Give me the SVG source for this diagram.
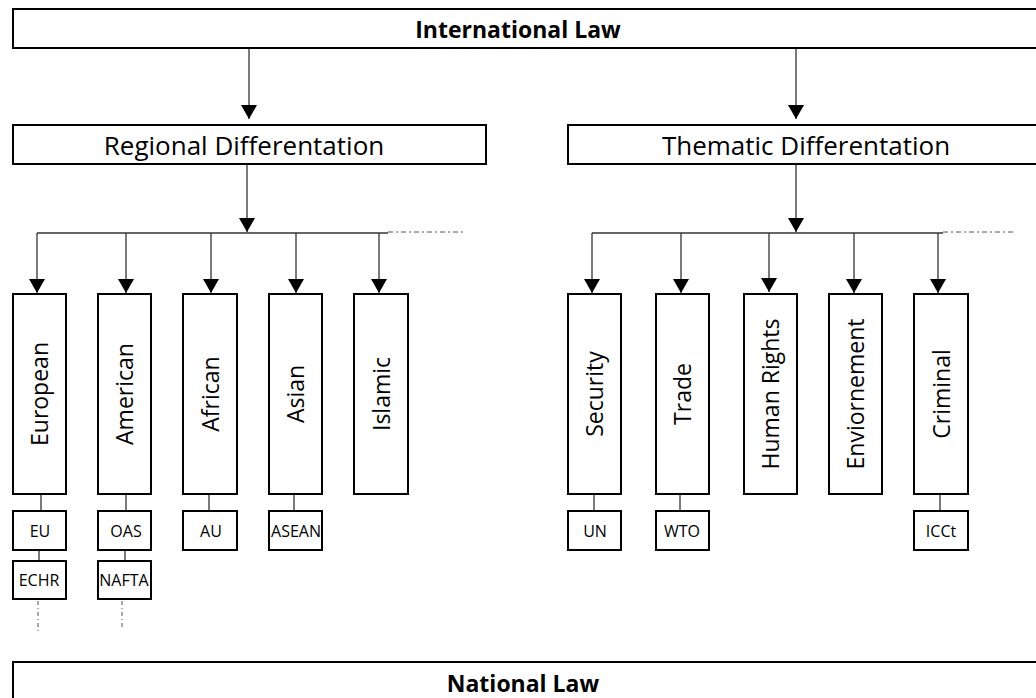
<svg xmlns="http://www.w3.org/2000/svg" width="1036" height="698" viewBox="0 0 1036 698">
<defs>
<marker id="ah" markerWidth="15" markerHeight="16" refX="14" refY="8" orient="auto" markerUnits="userSpaceOnUse">
<path d="M0,0 L14,8 L0,16 Z" fill="#000"/>
</marker>
<style>
.box{fill:#fff;stroke:#000;stroke-width:2}
.con{stroke:#333;stroke-width:1.3;fill:none}
.arr{stroke:#333;stroke-width:1.3;fill:none;marker-end:url(#ah)}
.dd{stroke:#555;stroke-width:1;stroke-dasharray:5 3 2 3;fill:none}
.dot{stroke:#555;stroke-width:1;stroke-dasharray:4 3 1 3;fill:none}
.big{font-family:"Open Sans",sans-serif;font-weight:bold;font-size:23px;text-anchor:middle;fill:#000}
.mid{font-family:"Open Sans",sans-serif;font-size:26px;text-anchor:middle;fill:#000}
.rot{font-family:"Open Sans",sans-serif;font-size:23px;text-anchor:middle;fill:#000}
.sm{font-family:"Open Sans",sans-serif;font-size:16px;text-anchor:middle;fill:#000}
</style>
</defs>
<g id="connectors">
<line class="arr" x1="249" y1="48" x2="249" y2="119"/>
<line class="arr" x1="796" y1="48" x2="796" y2="119"/>
<line class="arr" x1="247" y1="164" x2="247" y2="232"/>
<line class="arr" x1="796" y1="164" x2="796" y2="232"/>
<line class="con" x1="37" y1="233" x2="388" y2="233"/>
<line class="dd" x1="388" y1="232" x2="465" y2="232"/>
<line class="con" x1="592" y1="233" x2="943" y2="233"/>
<line class="dd" x1="943" y1="232" x2="1016" y2="232"/>
<line class="arr" x1="37" y1="233" x2="37" y2="293"/>
<line class="arr" x1="126" y1="233" x2="126" y2="293"/>
<line class="arr" x1="211" y1="233" x2="211" y2="293"/>
<line class="arr" x1="296" y1="233" x2="296" y2="293"/>
<line class="arr" x1="379" y1="233" x2="379" y2="293"/>
<line class="arr" x1="592" y1="233" x2="592" y2="293"/>
<line class="arr" x1="681" y1="233" x2="681" y2="293"/>
<line class="arr" x1="769" y1="233" x2="769" y2="292"/>
<line class="arr" x1="854" y1="233" x2="854" y2="293"/>
<line class="arr" x1="938" y1="233" x2="938" y2="293"/>
<line class="con" x1="41" y1="494" x2="41" y2="511"/>
<line class="con" x1="126" y1="494" x2="126" y2="511"/>
<line class="con" x1="209" y1="494" x2="209" y2="511"/>
<line class="con" x1="294" y1="494" x2="294" y2="511"/>
<line class="con" x1="39" y1="550" x2="39" y2="561"/>
<line class="con" x1="125" y1="550" x2="125" y2="561"/>
<line class="dot" x1="38" y1="601" x2="38" y2="632"/>
<line class="dot" x1="122" y1="601" x2="122" y2="629"/>
<line class="con" x1="594" y1="494" x2="594" y2="511"/>
<line class="con" x1="680" y1="494" x2="680" y2="511"/>
<line class="con" x1="940" y1="494" x2="940" y2="511"/>
</g>
<g id="international-law">
<rect class="box" x="13" y="9" width="1030" height="39"/>
<text class="big" x="518" y="38">International Law</text>
</g>
<g id="regional">
<rect class="box" x="13" y="125" width="473" height="39"/>
<text class="mid" x="244" y="155">Regional Differentation</text>
</g>
<g id="thematic">
<rect class="box" x="568" y="125" width="480" height="39"/>
<text class="mid" x="806" y="155">Thematic Differentation</text>
</g>
<g id="european">
<rect class="box" x="13" y="294" width="53" height="200"/>
<text class="rot" transform="translate(48,394) rotate(-90)">European</text>
</g>
<g id="american">
<rect class="box" x="98" y="294" width="53" height="200"/>
<text class="rot" transform="translate(133,394) rotate(-90)">American</text>
</g>
<g id="african">
<rect class="box" x="183" y="294" width="54" height="200"/>
<text class="rot" transform="translate(218.5,394) rotate(-90)">African</text>
</g>
<g id="asian">
<rect class="box" x="269" y="294" width="53" height="200"/>
<text class="rot" transform="translate(304,394) rotate(-90)">Asian</text>
</g>
<g id="islamic">
<rect class="box" x="354" y="294" width="54" height="200"/>
<text class="rot" transform="translate(389.5,394) rotate(-90)">Islamic</text>
</g>
<g id="security">
<rect class="box" x="568" y="294" width="53" height="200"/>
<text class="rot" transform="translate(603,394) rotate(-90)">Security</text>
</g>
<g id="trade">
<rect class="box" x="656" y="294" width="53" height="200"/>
<text class="rot" transform="translate(691,394) rotate(-90)">Trade</text>
</g>
<g id="human-rights">
<rect class="box" x="744" y="294" width="53" height="200"/>
<text class="rot" transform="translate(779,394) rotate(-90)">Human Rights</text>
</g>
<g id="enviornement">
<rect class="box" x="829" y="294" width="53" height="200"/>
<text class="rot" transform="translate(864,394) rotate(-90)">Enviornement</text>
</g>
<g id="criminal">
<rect class="box" x="914" y="294" width="54" height="200"/>
<text class="rot" transform="translate(949.5,394) rotate(-90)">Criminal</text>
</g>
<g id="eu"><rect class="box" x="13" y="511" width="53" height="39"/><text class="sm" x="40" y="537">EU</text></g>
<g id="oas"><rect class="box" x="98" y="511" width="53" height="39"/><text class="sm" x="126" y="537">OAS</text></g>
<g id="au"><rect class="box" x="183" y="511" width="54" height="39"/><text class="sm" x="211" y="537">AU</text></g>
<g id="asean"><rect class="box" x="269" y="511" width="53" height="39"/><text class="sm" x="296" y="537">ASEAN</text></g>
<g id="echr"><rect class="box" x="13" y="561" width="53" height="38"/><text class="sm" x="39" y="586">ECHR</text></g>
<g id="nafta"><rect class="box" x="98" y="561" width="53" height="38"/><text class="sm" x="124" y="586">NAFTA</text></g>
<g id="un"><rect class="box" x="568" y="511" width="53" height="39"/><text class="sm" x="595" y="537">UN</text></g>
<g id="wto"><rect class="box" x="656" y="511" width="53" height="39"/><text class="sm" x="682" y="537">WTO</text></g>
<g id="icct"><rect class="box" x="914" y="511" width="54" height="39"/><text class="sm" x="941" y="537">ICCt</text></g>
<g id="national-law">
<rect class="box" x="13" y="662" width="1030" height="50"/>
<text class="big" x="523" y="692">National Law</text>
</g>
</svg>
